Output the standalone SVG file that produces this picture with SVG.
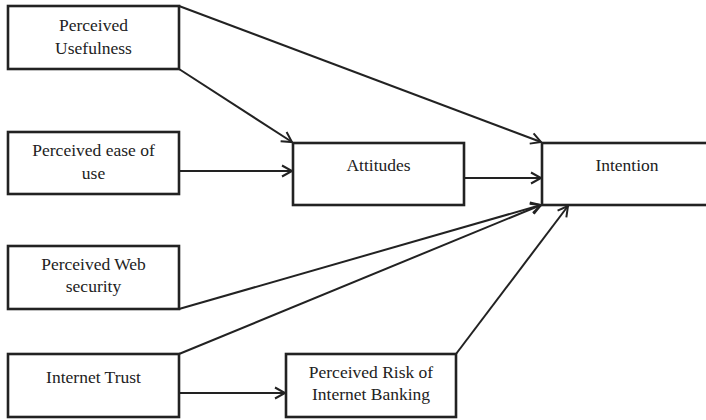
<svg xmlns="http://www.w3.org/2000/svg" width="706" height="420" viewBox="0 0 706 420">
<style>
.box{fill:#fff;stroke:#222;stroke-width:2.6}
.t{font-family:"Liberation Serif","Times New Roman",serif;font-size:17.5px;fill:#222;text-anchor:middle}
.c{fill:none;stroke:#222;stroke-width:2;marker-end:url(#ah)}
</style>
<defs>
<marker id="ah" markerUnits="userSpaceOnUse" markerWidth="14" markerHeight="14" refX="11" refY="6" orient="auto" viewBox="0 0 14 12">
<path d="M1,0.5 L11,6 L1,11.5" fill="none" stroke="#222" stroke-width="2"/>
</marker>
</defs>
<rect width="706" height="420" fill="#fff"/>
<g id="connectors">
<line class="c" x1="179" y1="6" x2="541" y2="142"/>
<line class="c" x1="179" y1="69" x2="292" y2="142"/>
<line class="c" x1="179" y1="171" x2="292" y2="171"/>
<line class="c" x1="464" y1="178" x2="541" y2="178"/>
<line class="c" x1="179" y1="309" x2="541" y2="205"/>
<line class="c" x1="179" y1="354" x2="541" y2="205"/>
<line class="c" x1="179" y1="393" x2="285" y2="393"/>
<line class="c" x1="456" y1="354" x2="568" y2="206"/>
</g>
<g id="pu">
<rect class="box" x="8" y="6" width="171" height="63"/>
<text class="t" x="93.5" y="31">Perceived</text>
<text class="t" x="93.5" y="54">Usefulness</text>
</g>
<g id="peou">
<rect class="box" x="8" y="132" width="171" height="62"/>
<text class="t" x="93.5" y="156">Perceived ease of</text>
<text class="t" x="93.5" y="179">use</text>
</g>
<g id="pws">
<rect class="box" x="8" y="246" width="171" height="63"/>
<text class="t" x="93.5" y="270">Perceived Web</text>
<text class="t" x="93.5" y="292">security</text>
</g>
<g id="it">
<rect class="box" x="8" y="354" width="171" height="63"/>
<text class="t" x="93.5" y="383">Internet Trust</text>
</g>
<g id="att">
<rect class="box" x="293" y="143" width="171" height="62"/>
<text class="t" x="378.5" y="171">Attitudes</text>
</g>
<g id="int">
<rect class="box" x="542" y="143" width="172" height="62"/>
<text class="t" x="627" y="171">Intention</text>
</g>
<g id="pr">
<rect class="box" x="286" y="354" width="170" height="63"/>
<text class="t" x="371" y="378">Perceived Risk of</text>
<text class="t" x="371" y="400">Internet Banking</text>
</g>
</svg>
